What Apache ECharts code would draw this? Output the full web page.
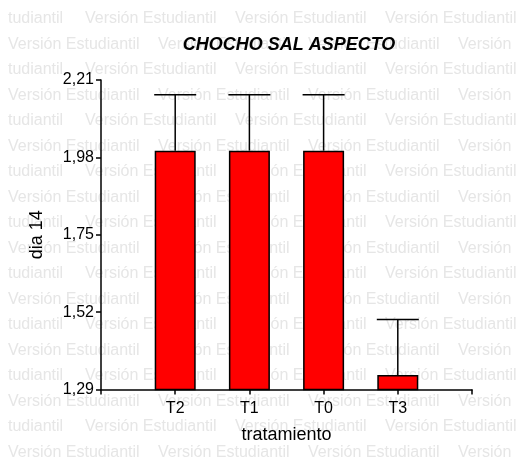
<!DOCTYPE html>
<html>
<head>
<meta charset="utf-8">
<script src="https://cdn.jsdelivr.net/npm/echarts@6/dist/echarts.min.js"></script>
<style>html,body{margin:0;padding:0;background:#fff;}#c{width:516px;height:461px;}</style>
</head>
<body>
<div id="c"></div>
<script>
var categories = ['', 'T2', 'T1', 'T0', 'T3', ''];
var means = [null, 2.0, 2.0, 2.0, 1.333, null];
var errors = [null, 0.166, 0.166, 0.166, 0.165, null];
var yTicks = ['1,29', '1,52', '1,75', '1,98', '2,21'];
var titleText = 'CHOCHO SAL ASPECTO';
var xName = 'tratamiento';
var yName = 'dia 14';
var watermark = 'Versión Estudiantil';

var chart = echarts.init(document.getElementById('c'), null, {renderer: 'canvas'});

var wm = [];
for (var r = 0; r < 18; r++) {
  var y = 20 + r * 25.5;
  var xs;
  if (r % 2 === 0) {
    wm.push({type: 'text', z: -100, x: 8, y: y - 9, style: {text: 'tudiantil', fill: '#e6e6e6', font: '16px "Liberation Sans", Arial'}});
    xs = [85, 235, 385];
  } else {
    xs = [8, 158, 308, 458];
  }
  xs.forEach(function (x) {
    wm.push({type: 'text', z: -100, x: x, y: y - 9, style: {text: watermark, fill: '#e6e6e6', font: '16px "Liberation Sans", Arial'}});
  });
}

var errData = [];
for (var i = 0; i < categories.length; i++) {
  if (means[i] != null) errData.push([i, means[i], means[i] + errors[i]]);
}

chart.setOption({
  animation: false,
  backgroundColor: '#fff',
  title: {
    text: titleText,
    left: 284,
    top: 31,
    textAlign: 'center',
    textStyle: {fontFamily: '"Liberation Sans", Arial', fontSize: 18, fontWeight: 'bold', fontStyle: 'italic', color: '#000'}
  },
  graphic: wm,
  grid: {left: 101, right: 44, top: 80, bottom: 71.5, containLabel: false},
  xAxis: {
    type: 'category',
    data: categories,
    boundaryGap: false,
    name: xName,
    nameLocation: 'middle',
    nameGap: 37,
    nameTextStyle: {fontFamily: '"Liberation Sans", Arial', fontSize: 18, color: '#000'},
    axisLine: {lineStyle: {color: '#000', width: 1.5}},
    axisTick: {show: true, interval: 0, length: 5, lineStyle: {color: '#000', width: 1.5}},
    axisLabel: {interval: 0, margin: 11, fontFamily: '"Liberation Sans", Arial', fontSize: 16, color: '#000'},
    splitLine: {show: false}
  },
  yAxis: {
    type: 'value',
    min: 1.29,
    max: 2.21,
    interval: 0.23,
    name: yName,
    nameLocation: 'middle',
    nameGap: 55,
    nameRotate: 90,
    nameTextStyle: {fontFamily: '"Liberation Sans", Arial', fontSize: 18, color: '#000'},
    axisLine: {show: true, lineStyle: {color: '#000', width: 1.5}},
    axisTick: {show: true, length: 5, lineStyle: {color: '#000', width: 1.5}},
    axisLabel: {
      margin: 7,
      fontFamily: '"Liberation Sans", Arial', fontSize: 16, color: '#000',
      formatter: function (v) {
        var idx = Math.round((v - 1.29) / 0.23);
        return yTicks[idx] !== undefined ? yTicks[idx] : '';
      }
    },
    splitLine: {show: false}
  },
  series: [
    {
      type: 'bar',
      data: means,
      barWidth: 41,
      clip: true,
      z: 2,
      itemStyle: {color: '#ff0000', borderColor: '#000', borderWidth: 1.5}
    },
    {
      type: 'custom',
      z: 1,
      data: errData,
      clip: false,
      renderItem: function (params, api) {
        var x = api.value(0);
        var top = api.coord([x, api.value(2)]);
        var base = api.coord([x, api.value(1)]);
        var hw = 21;
        var ls = {stroke: '#000', lineWidth: 1.5, fill: null};
        return {
          type: 'group',
          children: [
            {type: 'line', shape: {x1: top[0], y1: base[1], x2: top[0], y2: top[1]}, style: ls},
            {type: 'line', shape: {x1: top[0] - hw, y1: top[1], x2: top[0] + hw, y2: top[1]}, style: ls}
          ]
        };
      }
    }
  ]
});
</script>
</body>
</html>
